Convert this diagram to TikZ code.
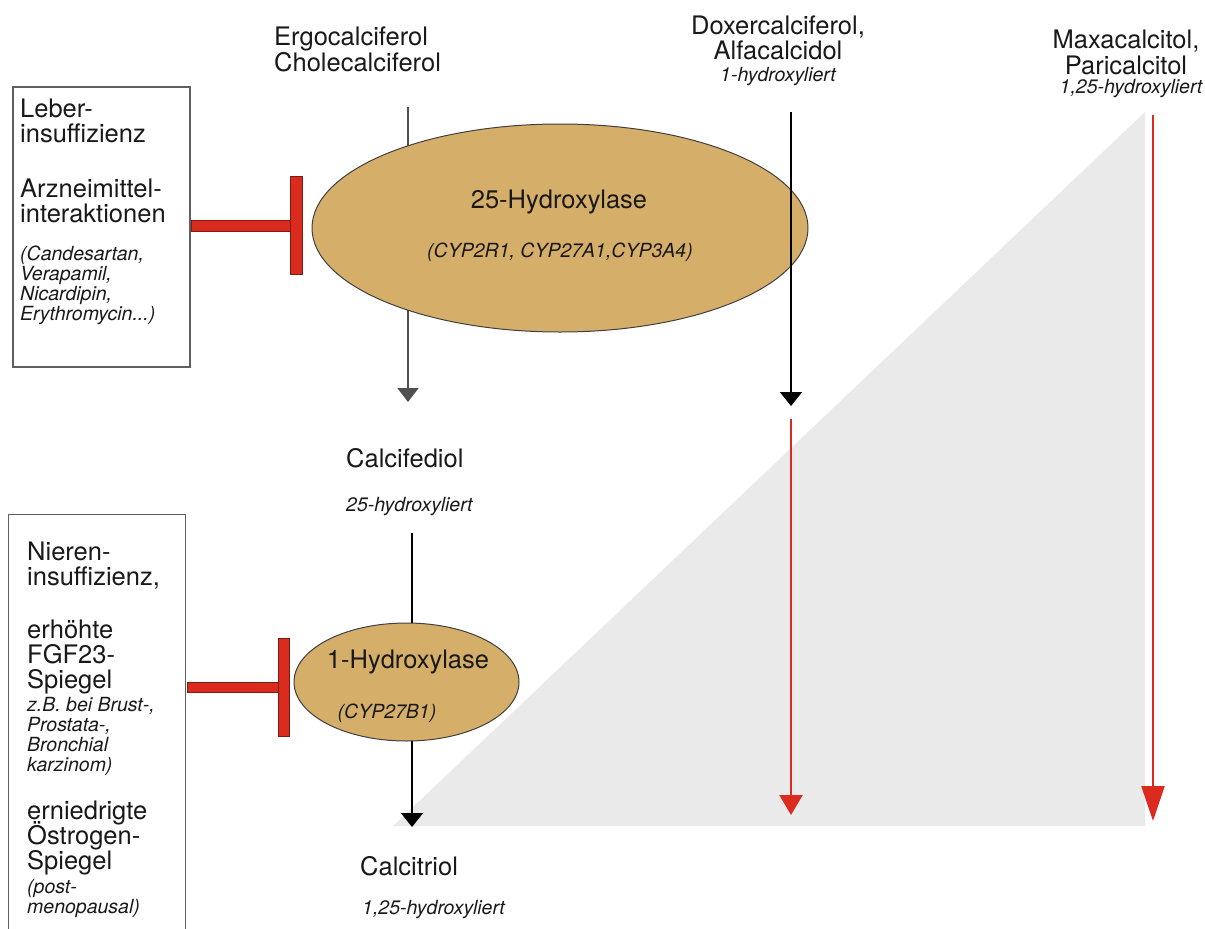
\documentclass[tikz,border=0pt]{standalone}
\usepackage{fontspec}
\setmainfont{TeX Gyre Heros}
\usetikzlibrary{arrows.meta,shapes.geometric,calc}
\definecolor{tanfill}{RGB}{213,175,106}
\definecolor{inhred}{RGB}{219,42,30}
\definecolor{inhdark}{RGB}{120,30,20}
\definecolor{trigrey}{RGB}{234,234,234}
\definecolor{boxgrey}{RGB}{95,95,95}
\definecolor{arrgrey}{RGB}{80,80,80}
\definecolor{txt}{RGB}{25,25,25}
\lineskiplimit=-100pt
\newcommand{\lstack}[1]{\vtop{\halign{##\hfil\cr#1\crcr}}}
\newcommand{\cstack}[1]{\vtop{\halign{\hfil##\hfil\cr#1\crcr}}}
\tikzset{
  big/.style={font=\fontsize{25.5}{25.3}\selectfont, inner sep=0pt, text=txt},
  small/.style={font=\fontsize{19.5}{20}\selectfont\itshape, inner sep=0pt, text=txt},
  enzyme/.style={ellipse, draw=black!75, line width=1pt, fill=tanfill, inner sep=0pt},
  infobox/.style={draw=boxgrey, line width=1.3pt, inner sep=0pt},
  greyarrow/.style={draw=arrgrey, line width=1.8pt, -{Triangle[width=21pt,length=14pt]}},
  blackarrow/.style={draw=black, line width=1.8pt, -{Triangle[width=22pt,length=14pt]}},
  redarrow/.style={draw=inhred, line width=2.2pt, -{Triangle[width=23pt,length=20pt]}},
  redlongarrow/.style={draw=inhred, line width=2.2pt, -{Triangle[width=23pt,length=35pt]}},
  inhbar/.style={fill=inhred, draw=inhdark, line width=0.6pt},
}
\begin{document}
\begin{tikzpicture}[x=1pt,y=-1pt]
\useasboundingbox (0,0) rectangle (1205,929);
\fill[white] (0,0) rectangle (1205,929);

% grey triangle
\fill[trigrey] (393,826) -- (1145,112) -- (1145,826) -- cycle;

% info boxes
\node[infobox, minimum width=177pt, minimum height=280pt] (box1) at (101.5,227) {};
\node[inner sep=0pt, minimum width=176pt, minimum height=414pt] (box2) at (97,722) {};
\draw[boxgrey, line width=1.3pt] (box2.south west) -- (box2.north west) -- (box2.north east) -- (box2.south east);

% box 1 text
\node[big, anchor=base west] (b1a) at (20,117) {\lstack{Leber-\cr insuffizienz}};
\node[big, anchor=base west] (b1b) at (20,197) {\lstack{Arzneimittel-\cr interaktionen}};
\node[small, anchor=base west] (b1c) at (20,260) {\lstack{(Candesartan,\cr Verapamil,\cr Nicardipin,\cr Erythromycin...)}};

% box 2 text
\node[big, anchor=base west] (b2a) at (27,560) {\lstack{Nieren-\cr insuffizienz,}};
\node[big, anchor=base west] (b2b) at (27,638) {\lstack{erhöhte\cr FGF23-\cr Spiegel}};
\node[small, anchor=base west] (b2c) at (27,711) {\lstack{z.B. bei Brust-,\cr Prostata-,\cr Bronchial\cr karzinom)}};
\node[big, anchor=base west] (b2d) at (27,819) {\lstack{erniedrigte\cr Östrogen-\cr Spiegel}};
\node[small, anchor=base west] (b2e) at (27,893) {\lstack{(post-\cr menopausal)}};

% top labels
\node[big, font=\fontsize{25.5}{26}\selectfont, anchor=base west] (ergo) at (274,45) {\lstack{Ergocalciferol\cr Cholecalciferol}};
\node[big, font=\fontsize{25.5}{25}\selectfont, anchor=base] (doxer) at (778,34) {\cstack{Doxercalciferol,\cr Alfacalcidol}};
\node[small, anchor=base] (doxerS) at (778,81) {1-hydroxyliert};
\node[big, font=\fontsize{25.5}{26}\selectfont, anchor=base] (maxa) at (1126,48) {\cstack{Maxacalcitol,\cr Paricalcitol}};
\node[small, anchor=base] (maxaS) at (1131,93) {1,25-hydroxyliert};

% connector coordinates
\coordinate (g1) at (408,107);
\coordinate (g2) at (408,402);
\coordinate (d1) at (791,112);
\coordinate (d2) at (791,406);
\coordinate (r1) at (791,419);
\coordinate (r2) at (791,815);
\coordinate (m1) at (1153,115);
\coordinate (m2) at (1153,821);
\coordinate (c1) at (412,533);
\coordinate (c2) at (412,827);
\coordinate (t1) at (296,225.5);
\coordinate (t2) at (283.5,687);

% grey arrow behind 25-hydroxylase
\draw[greyarrow] (g1) -- (g2);
% black arrow behind 1-hydroxylase
\draw[blackarrow] (c1) -- (c2);

% enzymes
\node[enzyme, minimum width=496pt, minimum height=208pt] (h25) at (560,228) {};
\node[big, anchor=base] (h25t) at (559,208) {25-Hydroxylase};
\node[small, anchor=base] (h25s) at (560,257) {(CYP2R1, CYP27A1,CYP3A4)};

\node[enzyme, minimum width=225pt, minimum height=118pt] (h1) at (406.5,682) {};
\node[big, anchor=base] (h1t) at (408,668) {1-Hydroxylase};
\node[small, anchor=base] (h1s) at (387,718) {(CYP27B1)};

% doxercalciferol arrow
\draw[blackarrow] (d1) -- (d2);

% red arrows
\draw[redarrow] (r1) -- (r2);
\draw[redlongarrow] (m1) -- (m2);

% inhibition T-bars
\filldraw[inhbar] ($(box1.east |- t1)+(1,-5.5)$) rectangle ($(t1)+(-6,5.5)$);
\filldraw[inhbar] ($(t1)+(-6,-49)$) rectangle ($(t1)+(6,49)$);
\filldraw[inhbar] ($(box2.east |- t2)+(2,-5)$) rectangle ($(t2)+(-5.5,5)$);
\filldraw[inhbar] ($(t2)+(-5.5,-49)$) rectangle ($(t2)+(5.5,49)$);

% product labels
\node[big, anchor=base west] (calcifediol) at (346,467) {Calcifediol};
\node[small, anchor=base west] (calcifediolS) at (346,511) {25-hydroxyliert};
\node[big, anchor=base west] (calcitriol) at (360,875) {Calcitriol};
\node[small, anchor=base west] (calcitriolS) at (362,914) {1,25-hydroxyliert};
\end{tikzpicture}
\end{document}
